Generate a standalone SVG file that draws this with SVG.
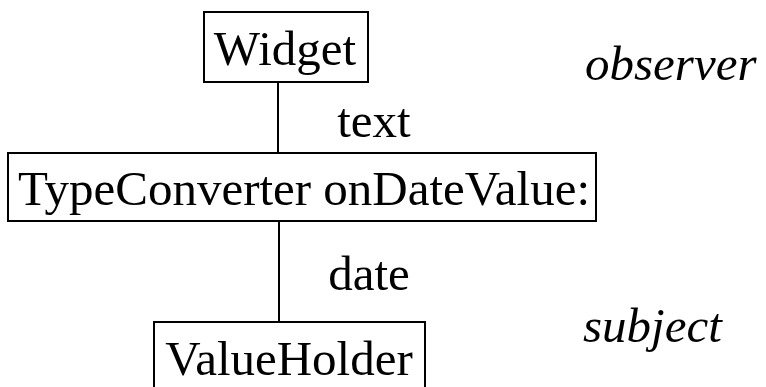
<svg xmlns="http://www.w3.org/2000/svg" width="766" height="387" viewBox="0 0 766 387">
<style>
text{font-family:"Liberation Serif","Times New Roman",serif;font-size:49px;fill:#000}
.it{font-style:italic}
rect{fill:#fff;stroke:#000;stroke-width:2}
line{stroke:#000;stroke-width:2}
</style>
<rect width="766" height="387" fill="#fff" style="stroke:none"/>
<g id="connectors">
<line x1="278" y1="82" x2="278" y2="153"/>
<line x1="279" y1="221" x2="279" y2="322"/>
</g>
<g id="widget">
<rect x="204" y="12" width="164" height="70"/>
<text x="285" y="65" text-anchor="middle">Widget</text>
</g>
<g id="typeconverter">
<rect x="8" y="153" width="588" height="68"/>
<text x="304" y="205" text-anchor="middle">TypeConverter onDateValue:</text>
</g>
<g id="valueholder">
<rect x="154" y="322" width="271" height="70"/>
<text x="289" y="375" text-anchor="middle">ValueHolder</text>
</g>
<text x="374" y="137" text-anchor="middle">text</text>
<text x="369" y="290" text-anchor="middle">date</text>
<text class="it" x="585" y="80">observer</text>
<text class="it" x="583" y="342">subject</text>
</svg>
